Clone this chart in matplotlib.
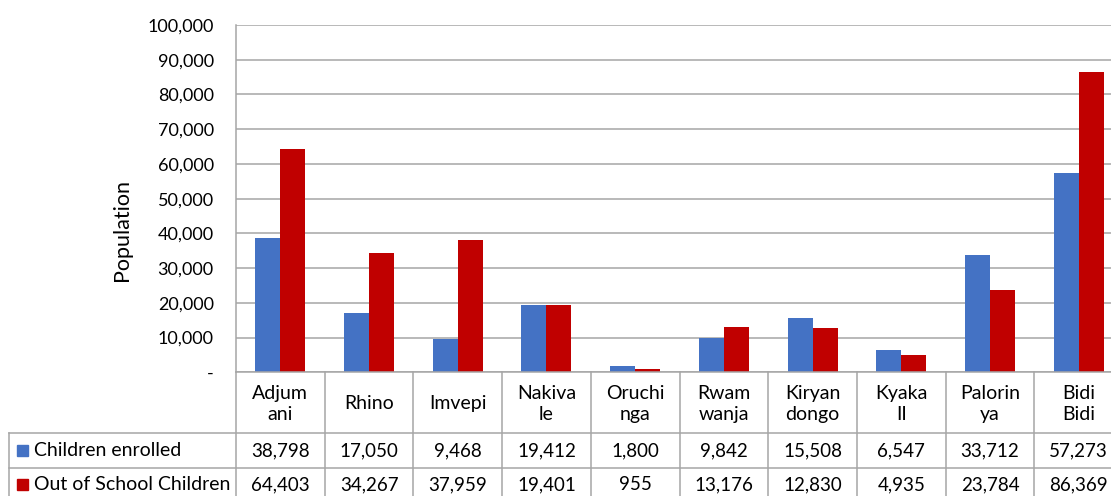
import matplotlib
matplotlib.use("Agg")
import matplotlib.pyplot as plt
from matplotlib.transforms import blended_transform_factory
from matplotlib.patches import Rectangle

categories = ["Adjum\nani", "Rhino", "Imvepi", "Nakiva\nle", "Oruchi\nnga",
              "Rwam\nwanja", "Kiryan\ndongo", "Kyaka\nII", "Palorin\nya", "Bidi\nBidi"]
enrolled = [38798, 17050, 9468, 19412, 1800, 9842, 15508, 6547, 33712, 57273]
out_of_school = [64403, 34267, 37959, 19401, 955, 13176, 12830, 4935, 23784, 86369]
series_names = ["Children enrolled", "Out of School Children"]
yticks = [0, 10000, 20000, 30000, 40000, 50000, 60000, 70000, 80000, 90000, 100000]

BLUE = "#4472C4"
RED = "#C00000"
GRID = "#A6A6A6"
TXT = "#000000"

plt.rcParams['font.family'] = ['Lato', 'DejaVu Sans']
FS_TXT = 14
FS_NUM = 13.5

W, H = 1111, 496
fig = plt.figure(figsize=(W / 100, H / 100), dpi=100)
fig.patch.set_facecolor("white")

def fy(y):
    return 1 - y / H

left_px, top_px, zero_px, colw = 236, 25, 372.3, 88.7
n = len(categories)
ax = fig.add_axes([left_px / W, fy(zero_px), n * colw / W, (zero_px - top_px) / H])

bw = 0.282
xs = [i + 0.5 for i in range(n)]
ax.bar([x - bw / 2 for x in xs], enrolled, width=bw, color=BLUE, zorder=3)
ax.bar([x + bw / 2 for x in xs], out_of_school, width=bw, color=RED, zorder=3)

ax.set_xlim(0, n)
ax.set_ylim(0, 100000)
ax.set_yticks(yticks)
ax.set_yticklabels(["-" if v == 0 else f"{v:,}" for v in yticks], fontsize=FS_NUM - 0.5, color=TXT)
ax.tick_params(axis='y', length=0, pad=16)
ax.tick_params(axis='x', length=0, labelbottom=False)
ax.grid(axis='y', color=GRID, lw=1.1, zorder=0)
for s in ["top", "right", "bottom"]:
    ax.spines[s].set_visible(False)
ax.spines["left"].set_color(GRID)
ax.spines["left"].set_linewidth(1.1)
fig.text(122 / W, fy(230), "Population", rotation=90, ha='center', va='center',
         fontsize=15.5, color=TXT)

# data table below the axes
tr = blended_transform_factory(ax.transData, fig.transFigure)
row_tops = [zero_px, 433.3, 467.7, 502.0]
label_left = 9.3
lab_x0 = -(left_px - label_left) / colw

def line(xa, ya):
    ax.plot(xa, [fy(v) for v in ya], transform=tr, clip_on=False,
            color=GRID, lw=1.1, zorder=5)

line([0, n], [row_tops[0]] * 2)
line([lab_x0, n], [row_tops[1]] * 2)
line([lab_x0, n], [row_tops[2]] * 2)
for i in range(n + 1):
    line([i, i], [row_tops[0], row_tops[3]])
line([lab_x0, lab_x0], [row_tops[1], row_tops[3]])

# header
for x, c in zip(xs, categories):
    ax.text(x, fy((row_tops[0] + row_tops[1]) / 2 + 1), c, transform=tr, ha='center', va='center',
            fontsize=FS_TXT, color=TXT, linespacing=1.3, clip_on=False)

# data rows
for r, (vals, name, col) in enumerate(zip([enrolled, out_of_school], series_names, [BLUE, RED])):
    yc = row_tops[r + 1] + (row_tops[2] - row_tops[1]) / 2
    for x, v in zip(xs, vals):
        ax.text(x, fy(yc), f"{v:,}", transform=tr, ha='center', va='center',
                fontsize=FS_NUM, color=TXT, clip_on=False)
    sq = 11
    fig.patches.append(Rectangle((17 / W, fy(yc + sq / 2)), sq / W, sq / H,
                                 transform=fig.transFigure, color=col, zorder=6))
    fig.text(34 / W, fy(yc), name, ha='left', va='center', fontsize=FS_TXT, color=TXT)

fig.savefig("out.png", dpi=100)
